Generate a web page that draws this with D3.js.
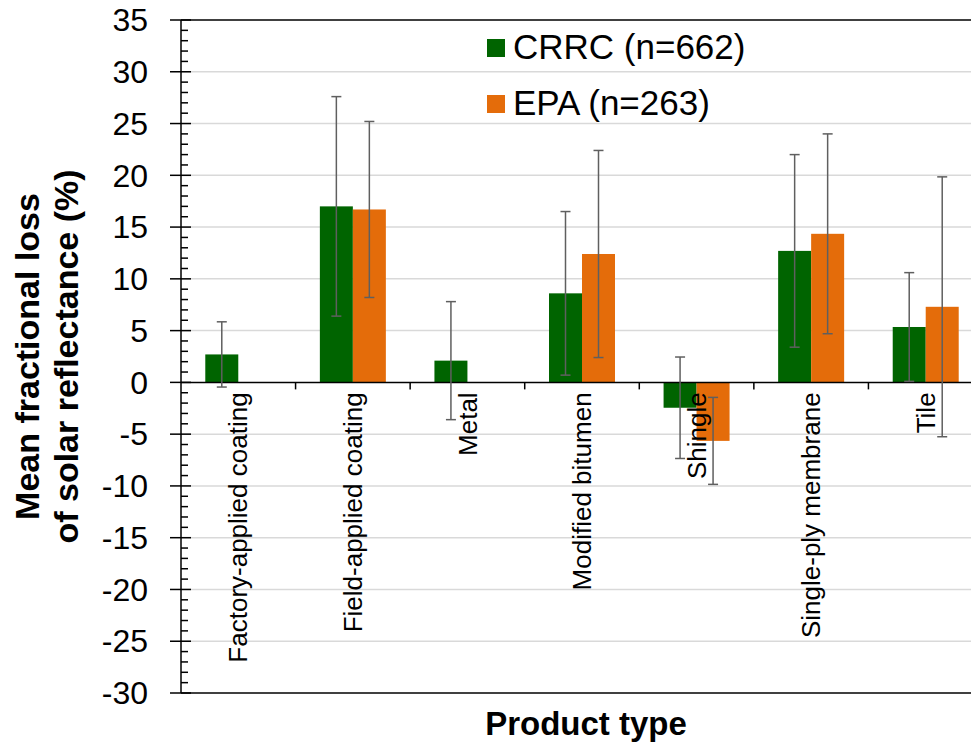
<!DOCTYPE html>
<html>
<head>
<meta charset="utf-8">
<script src="https://cdn.jsdelivr.net/npm/d3@7"></script>
<style>
  html, body { margin: 0; padding: 0; background: #ffffff; }
  svg { display: block; font-family: "Liberation Sans", Arial, sans-serif; }
</style>
</head>
<body>
<svg id="chart" width="971" height="748"></svg>
<script>
// Product categories and mean fractional loss of solar reflectance (%) per data source
const categories = ["Factory-applied coating", "Field-applied coating", "Metal", "Modified bitumen", "Shingle", "Single-ply membrane", "Tile"];
const seriesNames = ["CRRC (n=662)", "EPA (n=263)"];
const crrcValues = [2.7, 17.0, 2.1, 8.6, -2.45, 12.7, 5.35];
const crrcErrors = [3.15, 10.6, 5.7, 7.9, 4.9, 9.3, 5.25];
const epaValues = [null, 16.7, null, 12.4, -5.65, 14.35, 7.3];
const epaErrors = [null, 8.5, null, 10.0, 4.2, 9.65, 12.55];
const yTicks = [35, 30, 25, 20, 15, 10, 5, 0, -5, -10, -15, -20, -25, -30];
const colors = ["#006400", "#E46C0A"];

const svg = d3.select("#chart");
const plot = { left: 181, right: 983, top: 20, bottom: 693 };

const y = d3.scaleLinear().domain([-30, 35]).range([plot.bottom, plot.top]);
const x0 = d3.scaleBand().domain(categories).range([plot.left, plot.right]).padding(0);
const bw = x0.bandwidth();
const x1 = d3.scaleBand().domain(seriesNames).range([bw * 0.212, bw * 0.788]).padding(0);

// Horizontal gridlines at the major ticks
svg.append("g").selectAll("line")
  .data(yTicks.filter(t => t !== 0 && t !== 35 && t !== -30))
  .join("line")
  .attr("x1", plot.left).attr("x2", plot.right)
  .attr("y1", d => y(d)).attr("y2", d => y(d))
  .attr("stroke", "#d9d9d9").attr("stroke-width", 1.5);

// Frame lines at the top and bottom of the plot
[35, -30].forEach(v => {
  svg.append("line")
    .attr("x1", plot.left).attr("x2", plot.right)
    .attr("y1", y(v)).attr("y2", y(v))
    .attr("stroke", "#000").attr("stroke-width", 1.5);
});

// Build flat records for bars
const records = [];
categories.forEach((c, i) => {
  [[crrcValues, crrcErrors], [epaValues, epaErrors]].forEach(([vals, errs], s) => {
    if (vals[i] !== null) records.push({ cat: c, series: seriesNames[s], s, v: vals[i], e: errs[i] });
  });
});

// Bars
svg.append("g").selectAll("rect")
  .data(records)
  .join("rect")
  .attr("x", d => x0(d.cat) + x1(d.series))
  .attr("width", x1.bandwidth())
  .attr("y", d => y(Math.max(0, d.v)))
  .attr("height", d => Math.abs(y(d.v) - y(0)))
  .attr("fill", d => colors[d.s]);

// Zero line with category separators
svg.append("line")
  .attr("x1", plot.left).attr("x2", plot.right)
  .attr("y1", y(0)).attr("y2", y(0))
  .attr("stroke", "#000").attr("stroke-width", 1.5);
svg.append("g").selectAll("line")
  .data(categories.slice(1))
  .join("line")
  .attr("x1", d => x0(d)).attr("x2", d => x0(d))
  .attr("y1", y(0)).attr("y2", y(0) + 7)
  .attr("stroke", "#000").attr("stroke-width", 1.5);

// Error bars
const eb = svg.append("g").attr("stroke", "#5f5f5f").attr("stroke-width", 1.5);
records.forEach(d => {
  const cx = x0(d.cat) + x1(d.series) + x1.bandwidth() / 2;
  eb.append("line").attr("x1", cx).attr("x2", cx).attr("y1", y(d.v + d.e)).attr("y2", y(d.v - d.e));
  [d.v + d.e, d.v - d.e].forEach(t => {
    eb.append("line").attr("x1", cx - 5).attr("x2", cx + 5).attr("y1", y(t)).attr("y2", y(t));
  });
});

// Category labels, rotated, hanging below the zero line
svg.append("g").selectAll("text")
  .data(categories)
  .join("text")
  .attr("transform", d => `translate(${x0(d) + bw / 2},${y(0) + 10}) rotate(-90)`)
  .attr("text-anchor", "end")
  .attr("dy", "0.35em")
  .attr("font-size", 26)
  .attr("fill", "#000")
  .text(d => d);

// Y axis with major and minor ticks
const yAxis = svg.append("g");
yAxis.append("line")
  .attr("x1", plot.left).attr("x2", plot.left)
  .attr("y1", plot.top).attr("y2", plot.bottom)
  .attr("stroke", "#000").attr("stroke-width", 1.5);
yAxis.selectAll("line.minor")
  .data(d3.range(-30, 36, 1).filter(v => v % 5 !== 0))
  .join("line").attr("class", "minor")
  .attr("x1", plot.left).attr("x2", plot.left + 7)
  .attr("y1", d => y(d)).attr("y2", d => y(d))
  .attr("stroke", "#000").attr("stroke-width", 1.5);
yAxis.selectAll("line.major")
  .data(yTicks)
  .join("line").attr("class", "major")
  .attr("x1", plot.left - 11).attr("x2", plot.left + 10)
  .attr("y1", d => y(d)).attr("y2", d => y(d))
  .attr("stroke", "#000").attr("stroke-width", 1.5);
yAxis.selectAll("text")
  .data(yTicks)
  .join("text")
  .attr("x", 148).attr("y", d => y(d))
  .attr("dy", "0.35em")
  .attr("text-anchor", "end")
  .attr("font-size", 32)
  .attr("fill", "#000")
  .text(d => d);

// Axis titles
const midY = (plot.top + plot.bottom) / 2;
const yTitle = svg.append("text")
  .attr("transform", `translate(39,${midY}) rotate(-90)`)
  .attr("text-anchor", "middle")
  .attr("font-size", 34).attr("font-weight", "bold").attr("fill", "#000");
yTitle.append("tspan").attr("x", 0).attr("y", 0).text("Mean fractional loss");
yTitle.append("tspan").attr("x", 0).attr("y", 39).text("of solar reflectance (%)");

svg.append("text")
  .attr("x", 586).attr("y", 735)
  .attr("text-anchor", "middle")
  .attr("font-size", 33).attr("font-weight", "bold").attr("fill", "#000")
  .text("Product type");

// Legend
const legend = svg.append("g");
seriesNames.forEach((name, i) => {
  const ly = 39 + i * 56;
  legend.append("rect").attr("x", 487).attr("y", ly).attr("width", 18).attr("height", 18).attr("fill", colors[i]);
  legend.append("text").attr("x", 513).attr("y", ly + 19.5)
    .attr("font-size", 35).attr("fill", "#000").text(name);
});
</script>
</body>
</html>
